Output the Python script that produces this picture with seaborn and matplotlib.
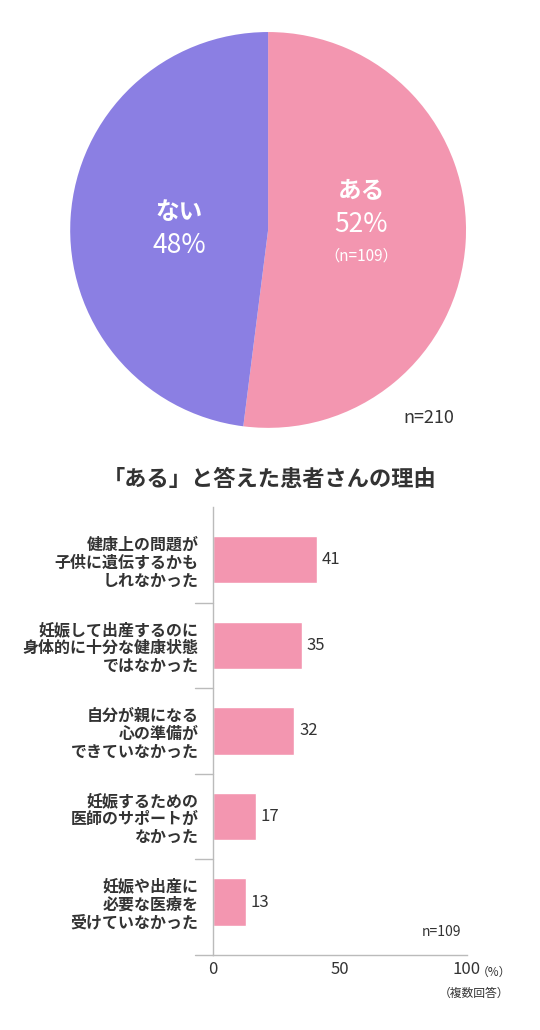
import matplotlib
matplotlib.use("Agg")
import matplotlib.pyplot as plt
import seaborn as sns
import pandas as pd

sns.set_theme(style="white")
plt.rcParams['font.family'] = ['Noto Sans CJK JP', 'DejaVu Sans']

pie_labels = ["ある", "ない"]
pie_values = [52, 48]
pie_colors = ["#F396B0", "#8B7FE3"]

reasons = ["健康上の問題が\n子供に遺伝するかも\nしれなかった",
           "妊娠して出産するのに\n身体的に十分な健康状態\nではなかった",
           "自分が親になる\n心の準備が\nできていなかった",
           "妊娠するための\n医師のサポートが\nなかった",
           "妊娠や出産に\n必要な医療を\n受けていなかった"]
reason_values = [41, 35, 32, 17, 13]
x_ticks = [0, 50, 100]

fig = plt.figure(figsize=(5.4, 10.3), dpi=100)

# Pie
axp = fig.add_axes([0.130, 0.5845, 0.733, 0.3845])
axp.pie(pie_values, colors=pie_colors, startangle=90, counterclock=False,
        wedgeprops=dict(linewidth=0))
axp.set_xlim(-1, 1)
axp.set_ylim(-1, 1)
axp.set_aspect('equal')
axp.text(0.47, 0.2, "ある", color="white", fontsize=17, fontweight="bold", ha="center", va="center")
axp.text(0.47, 0.03, f"{pie_values[0]}%", color="white", fontsize=19, ha="center", va="center")
axp.text(0.47, -0.13, "（n=109）", color="white", fontsize=11, ha="center", va="center")
axp.text(-0.45, 0.09, "ない", color="white", fontsize=17, fontweight="bold", ha="center", va="center")
axp.text(-0.45, -0.08, f"{pie_values[1]}%", color="white", fontsize=19, ha="center", va="center")
fig.text(0.795, 0.594, "n=210", fontsize=13, color="#333333", ha="center", va="center")

fig.text(0.5, 0.534, "「ある」と答えた患者さんの理由", fontsize=16, fontweight="bold",
         color="#333333", ha="center", va="center")

# Bars
axb = fig.add_axes([0.394, 0.0728, 0.470, 0.435])
df = pd.DataFrame({"reason": reasons, "value": reason_values})
sns.barplot(data=df, y="reason", x="value", orient="h", color="#F396B0",
            saturation=1, width=0.55, ax=axb)
axb.set_xlim(0, 100)
axb.set_ylim(4.62, -0.62)
axb.set_xlabel("")
axb.set_ylabel("")
for i, v in enumerate(reason_values):
    axb.text(v + 2, i, str(v), va="center", ha="left", fontsize=12, color="#333333")
axb.set_xticks(x_ticks)
axb.set_xticklabels([str(t) for t in x_ticks], fontsize=12, color="#333333")
axb.set_yticks(range(len(reasons)))
axb.set_yticklabels(reasons, fontsize=11.5, fontweight="bold", color="#333333", linespacing=1.15)
axb.tick_params(axis='y', length=0, pad=10)
axb.tick_params(axis='x', length=6, color="#bbbbbb", direction="in", pad=4)
for s in ["top", "right"]:
    axb.spines[s].set_visible(False)
for s in ["left", "bottom"]:
    axb.spines[s].set_color("#bbbbbb")
    axb.spines[s].set_linewidth(1)
# category separators
for b in [0.5, 1.5, 2.5, 3.5]:
    axb.plot([-0.07, 0], [b, b], color="#bbbbbb", lw=1, transform=axb.get_yaxis_transform(), clip_on=False)
axb.plot([-0.07, 0], [4.62, 4.62], color="#bbbbbb", lw=1, transform=axb.get_yaxis_transform(), clip_on=False)
axb.text(0.98, 4.35, "n=109", fontsize=10, color="#333333", ha="right", va="center",
         transform=axb.get_yaxis_transform())
fig.text(0.915, 0.0555, "（%）", fontsize=8.5, color="#333333", ha="center", va="center")
fig.text(0.878, 0.036, "（複数回答）", fontsize=8.5, color="#333333", ha="center", va="center")

fig.savefig("out.png", dpi=100, facecolor="white")
